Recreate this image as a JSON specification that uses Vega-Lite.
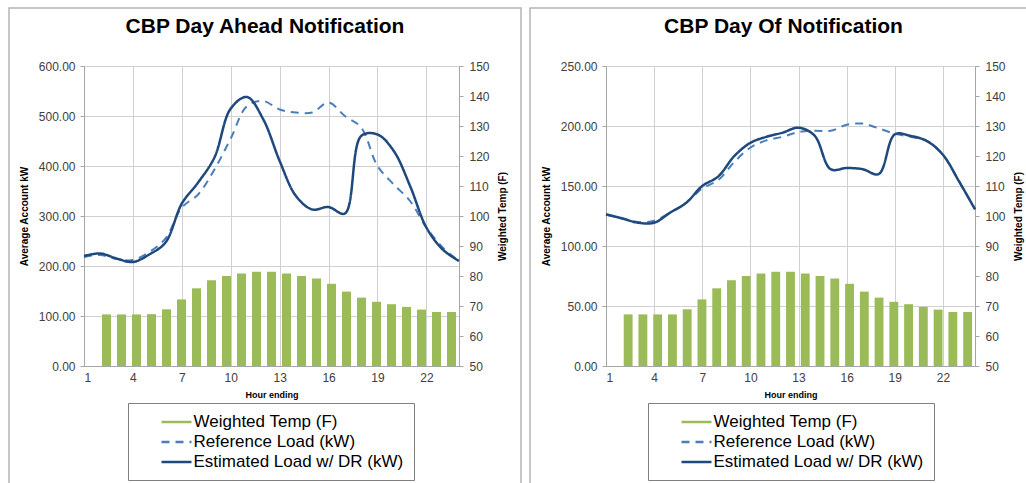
{
  "$schema": "https://vega.github.io/schema/vega-lite/v6.json",
  "padding": {"left": 8, "top": 7, "right": 0, "bottom": 0},
  "background": "white",
  "spacing": 7,
  "config": {
    "font": "Liberation Sans",
    "view": {"stroke": "#b4b4b4", "strokeWidth": 1.5},
    "axis": {"labelFont": "Liberation Sans", "titleFont": "Liberation Sans", "labelColor": "#404040", "labelFontSize": 12, "titleColor": "#000000", "titleFontWeight": "bold", "domainColor": "#a6a6a6", "tickColor": "#a6a6a6", "gridColor": "#d0d0d0"},
    "legend": {"orient": "none", "title": null, "symbolType": "M-2,0H2", "symbolSize": 225, "symbolStrokeWidth": 2.5, "labelFontSize": 17, "labelLimit": 400, "labelFont": "Liberation Sans", "labelColor": "#000000", "strokeColor": "#808080", "fillColor": "#ffffff", "padding": 10, "rowPadding": 3, "symbolOffset": 29.5, "labelOffset": 8}
  },
  "datasets": {
    "ahead": [
      {"hour": 1, "temp": 67.2, "ref": 218, "est": 220},
      {"hour": 2, "temp": 67.2, "ref": 222, "est": 225},
      {"hour": 3, "temp": 67.2, "ref": 214, "est": 215},
      {"hour": 4, "temp": 67.3, "ref": 212, "est": 208},
      {"hour": 5, "temp": 68.9, "ref": 228, "est": 223},
      {"hour": 6, "temp": 72.2, "ref": 255, "est": 247},
      {"hour": 7, "temp": 75.9, "ref": 317, "est": 325},
      {"hour": 8, "temp": 78.6, "ref": 343, "est": 367},
      {"hour": 9, "temp": 80.0, "ref": 393, "est": 417},
      {"hour": 10, "temp": 80.8, "ref": 455, "est": 515},
      {"hour": 11, "temp": 81.4, "ref": 520, "est": 538},
      {"hour": 12, "temp": 81.4, "ref": 530, "est": 493},
      {"hour": 13, "temp": 80.8, "ref": 513, "est": 410},
      {"hour": 14, "temp": 80.0, "ref": 507, "est": 340},
      {"hour": 15, "temp": 79.2, "ref": 507, "est": 313},
      {"hour": 16, "temp": 77.4, "ref": 527, "est": 318},
      {"hour": 17, "temp": 74.8, "ref": 500, "est": 305},
      {"hour": 18, "temp": 72.8, "ref": 477, "est": 460},
      {"hour": 19, "temp": 71.4, "ref": 400, "est": 463},
      {"hour": 20, "temp": 70.6, "ref": 363, "est": 430},
      {"hour": 21, "temp": 69.7, "ref": 330, "est": 360},
      {"hour": 22, "temp": 68.8, "ref": 277, "est": 277},
      {"hour": 23, "temp": 68.0, "ref": 237, "est": 233},
      {"hour": 24, "temp": 68.0, "ref": 210, "est": 210}
    ],
    "dayof": [
      {"hour": 1, "temp": 67.2, "ref": 126, "est": 126.4},
      {"hour": 2, "temp": 67.2, "ref": 123, "est": 123},
      {"hour": 3, "temp": 67.2, "ref": 120, "est": 119.4},
      {"hour": 4, "temp": 67.2, "ref": 121, "est": 119.4},
      {"hour": 5, "temp": 68.9, "ref": 128, "est": 127.8},
      {"hour": 6, "temp": 72.2, "ref": 136, "est": 136},
      {"hour": 7, "temp": 75.9, "ref": 148, "est": 150},
      {"hour": 8, "temp": 78.6, "ref": 155, "est": 158},
      {"hour": 9, "temp": 80.0, "ref": 170, "est": 175},
      {"hour": 10, "temp": 80.8, "ref": 182, "est": 186},
      {"hour": 11, "temp": 81.4, "ref": 188, "est": 191},
      {"hour": 12, "temp": 81.4, "ref": 191, "est": 194.4},
      {"hour": 13, "temp": 80.8, "ref": 195, "est": 198.6},
      {"hour": 14, "temp": 80.0, "ref": 196, "est": 192},
      {"hour": 15, "temp": 79.2, "ref": 196, "est": 164},
      {"hour": 16, "temp": 77.4, "ref": 201, "est": 165},
      {"hour": 17, "temp": 74.8, "ref": 202, "est": 164},
      {"hour": 18, "temp": 72.8, "ref": 198, "est": 160},
      {"hour": 19, "temp": 71.4, "ref": 193.6, "est": 193},
      {"hour": 20, "temp": 70.6, "ref": 191, "est": 191.7},
      {"hour": 21, "temp": 69.7, "ref": 187.5, "est": 187.5},
      {"hour": 22, "temp": 68.8, "ref": 176, "est": 176},
      {"hour": 23, "temp": 68.0, "ref": 154, "est": 154},
      {"hour": 24, "temp": 68.0, "ref": 130.6, "est": 130.6}
    ]
  },
  "resolve": {"scale": {"color": "independent", "strokeDash": "independent"}, "legend": {"color": "independent", "strokeDash": "independent"}},
  "hconcat": [
    {
      "width": 512,
      "height": 476,
      "title": {"text": "CBP Day Ahead Notification", "offset": -46, "fontSize": 21, "fontWeight": "bold", "font": "Liberation Sans", "color": "#000000", "anchor": "middle", "frame": "group", "baseline": "alphabetic"},
      "data": {"name": "ahead"},
      "resolve": {"scale": {"x": "independent", "y": "independent"}, "axis": {"x": "independent", "y": "independent"}},
      "layer": [
        {
          "mark": {"type": "point", "opacity": 0},
          "encoding": {
            "x": {"field": "hour", "type": "quantitative", "scale": {"domain": [1, 24], "range": [75, 450], "nice": false, "zero": false},
              "axis": {"orient": "top", "values": [1,4,7,10,13,16,19,22], "grid": true, "labels": false, "ticks": false, "domain": false, "title": null}},
            "y": {"field": "ref", "type": "quantitative", "scale": {"domain": [0, 600], "range": [358, 58], "nice": false}, "axis": null}
          }
        },
        {
          "mark": {"type": "bar"},
          "encoding": {
            "x": {"field": "hour", "type": "ordinal", "scale": {"domain": [0,1,2,3,4,5,6,7,8,9,10,11,12,13,14,15,16,17,18,19,20,21,22,23,24], "range": [75, 450], "paddingInner": 0.4, "paddingOuter": 0.2}, "axis": null},
            "y": {"field": "temp", "type": "quantitative", "scale": {"domain": [50, 150], "range": [358, 58], "nice": false, "zero": false},
              "axis": {"orient": "right", "offset": -62, "values": [50,60,70,80,90,100,110,120,130,140,150], "grid": false, "tickSize": 4, "labelPadding": 6, "title": "Weighted Temp (F)", "titleAngle": 270, "titleFontSize": 10, "titlePadding": 18}},
            "y2": {"datum": 50},
            "color": {"datum": "Weighted Temp (F)", "type": "nominal",
              "scale": {"domain": ["Weighted Temp (F)", "Reference Load (kW)", "Estimated Load w/ DR (kW)"], "range": ["#9BBB59", "#4A7EBB", "#1F497D"]},
              "legend": {"legendX": 119, "legendY": 395}}
          }
        },
        {
          "encoding": {
            "x": {"field": "hour", "type": "quantitative", "scale": {"domain": [1, 24], "range": [75, 450], "nice": false, "zero": false},
              "axis": {"orient": "bottom", "offset": -118, "values": [1,4,7,10,13,16,19,22], "grid": false, "ticks": false, "labelPadding": 6, "title": "Hour ending", "titleFontSize": 9, "titlePadding": 7}},
            "y": {"type": "quantitative", "scale": {"domain": [0, 600], "range": [358, 58], "nice": false},
              "axis": {"orient": "left", "offset": -75, "values": [0,100,200,300,400,500,600], "format": ".2f", "grid": true, "tickSize": 4, "labelPadding": 5, "title": "Average Account kW", "titleFontSize": 10, "titlePadding": 9}}
          },
          "layer": [
            {"mark": {"type": "line", "interpolate": "catmull-rom", "strokeWidth": 2},
             "encoding": {"y": {"field": "ref", "type": "quantitative"}, "color": {"datum": "Reference Load (kW)", "type": "nominal"},
               "strokeDash": {"datum": "Reference Load (kW)", "type": "nominal", "scale": {"domain": ["Weighted Temp (F)", "Reference Load (kW)", "Estimated Load w/ DR (kW)"], "range": [[1, 0], [8, 6], [1, 0]]}, "legend": {"legendX": 119, "legendY": 395}}}},
            {"mark": {"type": "line", "interpolate": "catmull-rom", "strokeWidth": 2.5},
             "encoding": {"y": {"field": "est", "type": "quantitative"}, "color": {"datum": "Estimated Load w/ DR (kW)", "type": "nominal"},
               "strokeDash": {"datum": "Estimated Load w/ DR (kW)", "type": "nominal"}}}
          ]
        }
      ]
    },
    {
      "width": 499,
      "height": 476,
      "title": {"text": "CBP Day Of Notification", "offset": -46, "dx": 4, "fontSize": 21, "fontWeight": "bold", "font": "Liberation Sans", "color": "#000000", "anchor": "middle", "frame": "group", "baseline": "alphabetic"},
      "data": {"name": "dayof"},
      "resolve": {"scale": {"x": "independent", "y": "independent"}, "axis": {"x": "independent", "y": "independent"}},
      "layer": [
        {
          "mark": {"type": "point", "opacity": 0},
          "encoding": {
            "x": {"field": "hour", "type": "quantitative", "scale": {"domain": [1, 24], "range": [76, 445], "nice": false, "zero": false},
              "axis": {"orient": "top", "values": [1,4,7,10,13,16,19,22], "grid": true, "labels": false, "ticks": false, "domain": false, "title": null}},
            "y": {"field": "ref", "type": "quantitative", "scale": {"domain": [0, 250], "range": [358, 58], "nice": false}, "axis": null}
          }
        },
        {
          "mark": {"type": "bar"},
          "encoding": {
            "x": {"field": "hour", "type": "ordinal", "scale": {"domain": [0,1,2,3,4,5,6,7,8,9,10,11,12,13,14,15,16,17,18,19,20,21,22,23,24], "range": [76, 445], "paddingInner": 0.4, "paddingOuter": 0.2}, "axis": null},
            "y": {"field": "temp", "type": "quantitative", "scale": {"domain": [50, 150], "range": [358, 58], "nice": false, "zero": false},
              "axis": {"orient": "right", "offset": -54, "values": [50,60,70,80,90,100,110,120,130,140,150], "grid": false, "tickSize": 4, "labelPadding": 6, "title": "Weighted Temp (F)", "titleAngle": 270, "titleFontSize": 10, "titlePadding": 18}},
            "y2": {"datum": 50},
            "color": {"datum": "Weighted Temp (F)", "type": "nominal",
              "scale": {"domain": ["Weighted Temp (F)", "Reference Load (kW)", "Estimated Load w/ DR (kW)"], "range": ["#9BBB59", "#4A7EBB", "#1F497D"]},
              "legend": {"legendX": 118, "legendY": 395}}
          }
        },
        {
          "encoding": {
            "x": {"field": "hour", "type": "quantitative", "scale": {"domain": [1, 24], "range": [76, 445], "nice": false, "zero": false},
              "axis": {"orient": "bottom", "offset": -118, "values": [1,4,7,10,13,16,19,22], "grid": false, "ticks": false, "labelPadding": 6, "title": "Hour ending", "titleFontSize": 9, "titlePadding": 7}},
            "y": {"type": "quantitative", "scale": {"domain": [0, 250], "range": [358, 58], "nice": false},
              "axis": {"orient": "left", "offset": -76, "values": [0,50,100,150,200,250], "format": ".2f", "grid": true, "tickSize": 4, "labelPadding": 5, "title": "Average Account kW", "titleFontSize": 10, "titlePadding": 9}}
          },
          "layer": [
            {"mark": {"type": "line", "interpolate": "catmull-rom", "strokeWidth": 2},
             "encoding": {"y": {"field": "ref", "type": "quantitative"}, "color": {"datum": "Reference Load (kW)", "type": "nominal"},
               "strokeDash": {"datum": "Reference Load (kW)", "type": "nominal", "scale": {"domain": ["Weighted Temp (F)", "Reference Load (kW)", "Estimated Load w/ DR (kW)"], "range": [[1, 0], [8, 6], [1, 0]]}, "legend": {"legendX": 118, "legendY": 395}}}},
            {"mark": {"type": "line", "interpolate": "catmull-rom", "strokeWidth": 2.5},
             "encoding": {"y": {"field": "est", "type": "quantitative"}, "color": {"datum": "Estimated Load w/ DR (kW)", "type": "nominal"},
               "strokeDash": {"datum": "Estimated Load w/ DR (kW)", "type": "nominal"}}}
          ]
        }
      ]
    }
  ]
}
